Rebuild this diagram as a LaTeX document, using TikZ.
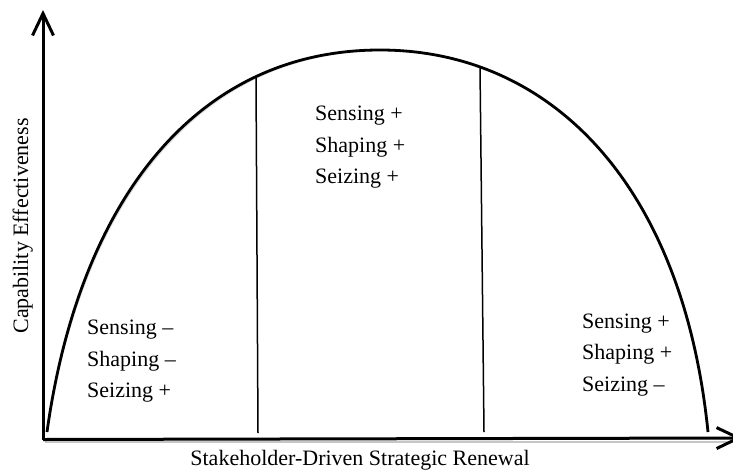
\documentclass[tikz,border=0pt]{standalone}
\usepackage{fontspec}
\setmainfont{Liberation Serif}
\usetikzlibrary{arrows.meta}
\begin{document}
\begin{tikzpicture}[x=1pt,y=-1pt,
  txt/.style={font=\fontsize{22}{31.5}\selectfont, inner sep=0pt, align=left, anchor=north west},
  lbl/.style={font=\fontsize{22}{25}\selectfont, inner sep=0pt},
  axisline/.style={line width=3pt, -{Straight Barb[length=22pt,width=21pt,line width=3pt]}},
  shadowline/.style={gray!45, line width=2.2pt},
  curveline/.style={line width=2.8pt},
  divider/.style={line width=1.5pt}]
\useasboundingbox (0,0) rectangle (733,469);
% points
\coordinate (O) at (43,439.5);
\coordinate (Ytip) at (43,10);
\coordinate (Xtip) at (742,438);
\coordinate (C0) at (47,432);
\coordinate (Cp) at (380,50);
\coordinate (C1) at (708,432);
\coordinate (D1t) at (256,78);
\coordinate (D1b) at (258,433);
\coordinate (D2t) at (480,67.5);
\coordinate (D2b) at (484,432);
% shadows
\draw[shadowline] (44.5,441.8) -- (735,441.8);
\draw[shadowline, gray!30, line width=2pt, shift={(1.5,1.5)}]
  (C0) .. controls (79,202) and (195,50) .. (Cp)
       .. controls (550,50) and (682.8,183.25) .. (C1);
% axes
\draw[axisline] (O) -- (Ytip);
\draw[axisline] (O) -- (Xtip);
% curve
\draw[curveline] (C0) .. controls (79,202) and (195,50) .. (Cp)
       .. controls (550,50) and (682.8,183.25) .. (C1);
% dividers
\draw[divider] (D1t) -- (D1b);
\draw[divider] (D2t) -- (D2b);
% texts
\node[txt] (left) at (87,320) {Sensing –\\Shaping –\\Seizing +};
\node[txt] (mid) at (315,106) {Sensing +\\Shaping +\\Seizing +};
\node[txt] (right) at (582,313.5) {Sensing +\\Shaping +\\Seizing –};
\node[lbl, anchor=base] (xlab) at (360,465) {Stakeholder-Driven Strategic Renewal};
\node[lbl, anchor=base, rotate=90] (ylab) at (28,226) {Capability Effectiveness};
\end{tikzpicture}
\end{document}
